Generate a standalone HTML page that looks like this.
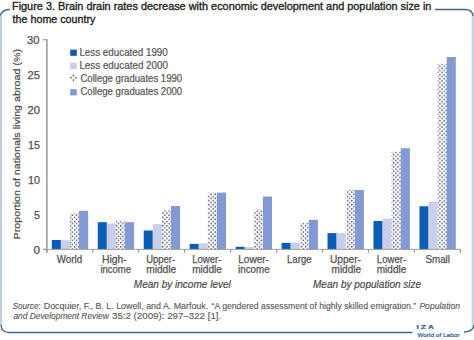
<!DOCTYPE html>
<html><head><meta charset="utf-8"><style>
html,body{margin:0;padding:0;background:#fff;}
body{width:474px;height:340px;overflow:hidden;}
svg{display:block;font-family:"Liberation Sans",sans-serif;}
.tk{font-size:10.8px;fill:#505050;stroke:#505050;stroke-width:0.25px;}
.cat{font-size:10.5px;fill:#505050;stroke:#505050;stroke-width:0.25px;}
.ylab{font-size:9.9px;fill:#4a4a4a;stroke:#4a4a4a;stroke-width:0.2px;}
.it{font-size:10.5px;font-style:italic;fill:#4a4a4a;stroke:#4a4a4a;stroke-width:0.2px;}
.ttl{font-size:11.1px;fill:#231f20;stroke:#231f20;stroke-width:0.35px;}
.leg{font-size:10.0px;fill:#555;stroke:#555;stroke-width:0.2px;}
.src{font-size:9.3px;fill:#555;stroke:#555;stroke-width:0.12px;}
.iza{font-size:5px;font-weight:bold;fill:#2a5c9e;stroke:#2a5c9e;stroke-width:0.2px;}
.wol{font-size:6.2px;fill:#2a5c9e;stroke:#2a5c9e;stroke-width:0.2px;}
</style></head><body>
<svg width="474" height="340" viewBox="0 0 474 340">
<defs>
<pattern id="dots" patternUnits="userSpaceOnUse" width="4.2" height="4.2" x="0" y="0">
<rect width="4.2" height="4.2" fill="#fbfbfe"/>
<circle cx="1.05" cy="1.05" r="0.8" fill="#4e5162"/>
<circle cx="3.15" cy="3.15" r="0.8" fill="#4e5162"/>
</pattern>
</defs>
<rect width="474" height="340" fill="#fff"/>

<rect x="0" y="15" width="2" height="311" fill="#bccde6"/>
<rect x="471.6" y="15" width="2.4" height="311" fill="#c2d2e8"/>
<path d="M0,15.5 Q2.5,9.5 10,9.5" fill="none" stroke="#41658f" stroke-width="1.35"/>
<path d="M435,9.5 L465,9.5 Q472.5,9.5 473,16" fill="none" stroke="#41658f" stroke-width="1.35"/>
<path d="M1,325 Q1.5,332.5 9,332.5 L412.5,332.5" fill="none" stroke="#41658f" stroke-width="1.35"/>
<path d="M464,332 Q473,331.5 474,325" fill="none" stroke="#41658f" stroke-width="1.35"/>
<rect x="70.2" y="49.6" width="6.6" height="6.2" fill="#0b5cb4"/>
<rect x="70.2" y="62.8" width="6.6" height="6.2" fill="#c9ceea"/>
<circle cx="73.4" cy="77.7" r="1.6" fill="#eef0fa"/><circle cx="73.4" cy="75.4" r="0.85" fill="#5a5d78"/><circle cx="70.9" cy="77.7" r="0.85" fill="#5a5d78"/><circle cx="75.9" cy="77.7" r="0.85" fill="#5a5d78"/><circle cx="73.4" cy="80.1" r="0.85" fill="#5a5d78"/>
<rect x="70.2" y="89.2" width="6.6" height="6.2" fill="#8299d4"/>
<rect x="51.80" y="240.00" width="9.09" height="9.40" fill="#0b5cb4"/>
<rect x="60.89" y="240.20" width="9.09" height="9.20" fill="#c9ceea"/>
<rect x="69.98" y="213.30" width="9.09" height="36.10" fill="url(#dots)"/>
<rect x="79.07" y="210.80" width="9.09" height="38.60" fill="#8299d4"/>
<rect x="97.76" y="222.20" width="9.09" height="27.20" fill="#0b5cb4"/>
<rect x="106.84" y="223.70" width="9.09" height="25.70" fill="#c9ceea"/>
<rect x="115.93" y="221.30" width="9.09" height="28.10" fill="url(#dots)"/>
<rect x="125.02" y="222.20" width="9.09" height="27.20" fill="#8299d4"/>
<rect x="143.71" y="230.50" width="9.09" height="18.90" fill="#0b5cb4"/>
<rect x="152.80" y="224.20" width="9.09" height="25.20" fill="#c9ceea"/>
<rect x="161.89" y="210.40" width="9.09" height="39.00" fill="url(#dots)"/>
<rect x="170.98" y="206.00" width="9.09" height="43.40" fill="#8299d4"/>
<rect x="189.67" y="243.90" width="9.09" height="5.50" fill="#0b5cb4"/>
<rect x="198.76" y="243.30" width="9.09" height="6.10" fill="#c9ceea"/>
<rect x="207.84" y="192.60" width="9.09" height="56.80" fill="url(#dots)"/>
<rect x="216.93" y="192.60" width="9.09" height="56.80" fill="#8299d4"/>
<rect x="235.62" y="246.80" width="9.09" height="2.60" fill="#0b5cb4"/>
<rect x="244.71" y="247.10" width="9.09" height="2.30" fill="#c9ceea"/>
<rect x="253.80" y="210.40" width="9.09" height="39.00" fill="url(#dots)"/>
<rect x="262.89" y="196.50" width="9.09" height="52.90" fill="#8299d4"/>
<rect x="281.58" y="242.90" width="9.09" height="6.50" fill="#0b5cb4"/>
<rect x="290.67" y="242.40" width="9.09" height="7.00" fill="#c9ceea"/>
<rect x="299.76" y="222.90" width="9.09" height="26.50" fill="url(#dots)"/>
<rect x="308.84" y="219.80" width="9.09" height="29.60" fill="#8299d4"/>
<rect x="327.53" y="233.10" width="9.09" height="16.30" fill="#0b5cb4"/>
<rect x="336.62" y="233.10" width="9.09" height="16.30" fill="#c9ceea"/>
<rect x="345.71" y="190.00" width="9.09" height="59.40" fill="url(#dots)"/>
<rect x="354.80" y="190.00" width="9.09" height="59.40" fill="#8299d4"/>
<rect x="373.49" y="221.00" width="9.09" height="28.40" fill="#0b5cb4"/>
<rect x="382.58" y="218.70" width="9.09" height="30.70" fill="#c9ceea"/>
<rect x="391.67" y="151.60" width="9.09" height="97.80" fill="url(#dots)"/>
<rect x="400.76" y="148.20" width="9.09" height="101.20" fill="#8299d4"/>
<rect x="419.44" y="206.30" width="9.09" height="43.10" fill="#0b5cb4"/>
<rect x="428.53" y="201.70" width="9.09" height="47.70" fill="#c9ceea"/>
<rect x="437.62" y="64.10" width="9.09" height="185.30" fill="url(#dots)"/>
<rect x="446.71" y="57.00" width="9.09" height="192.40" fill="#8299d4"/>
<line x1="46.9" y1="39.7" x2="46.9" y2="252.5" stroke="#9a9a9a" stroke-width="1.5"/>
<line x1="43" y1="249.4" x2="460.9" y2="249.4" stroke="#a0a0a0" stroke-width="1"/>
<line x1="42.9" y1="249.40" x2="47.5" y2="249.40" stroke="#9a9a9a" stroke-width="1.2"/>
<line x1="42.9" y1="39.70" x2="47.5" y2="39.70" stroke="#9a9a9a" stroke-width="1.2"/>
<line x1="46.80" y1="249" x2="46.80" y2="252.7" stroke="#999" stroke-width="1.2"/>
<line x1="92.76" y1="249" x2="92.76" y2="252.7" stroke="#999" stroke-width="1.2"/>
<line x1="138.71" y1="249" x2="138.71" y2="252.7" stroke="#999" stroke-width="1.2"/>
<line x1="184.67" y1="249" x2="184.67" y2="252.7" stroke="#999" stroke-width="1.2"/>
<line x1="230.62" y1="249" x2="230.62" y2="252.7" stroke="#999" stroke-width="1.2"/>
<line x1="276.58" y1="249" x2="276.58" y2="252.7" stroke="#999" stroke-width="1.2"/>
<line x1="322.53" y1="249" x2="322.53" y2="252.7" stroke="#999" stroke-width="1.2"/>
<line x1="368.49" y1="249" x2="368.49" y2="252.7" stroke="#999" stroke-width="1.2"/>
<line x1="414.44" y1="249" x2="414.44" y2="252.7" stroke="#999" stroke-width="1.2"/>
<line x1="460.40" y1="249" x2="460.40" y2="252.7" stroke="#999" stroke-width="1.2"/>

<text x="12.00" y="9.5" textLength="419.40" lengthAdjust="spacingAndGlyphs" class="ttl">Figure 3. Brain drain rates decrease with economic development and population size in</text>
<text x="12.60" y="23.1" textLength="82.80" lengthAdjust="spacingAndGlyphs" class="ttl">the home country</text>
<text x="79.40" y="55.7" textLength="88.40" lengthAdjust="spacingAndGlyphs" class="leg">Less educated 1990</text>
<text x="79.40" y="69.0" textLength="88.60" lengthAdjust="spacingAndGlyphs" class="leg">Less educated 2000</text>
<text x="80.40" y="82.2" textLength="101.80" lengthAdjust="spacingAndGlyphs" class="leg">College graduates 1990</text>
<text x="80.40" y="95.4" textLength="101.80" lengthAdjust="spacingAndGlyphs" class="leg">College graduates 2000</text>
<text transform="translate(19.5,239.40) rotate(-90)" x="0" y="0" textLength="190.40" lengthAdjust="spacingAndGlyphs" class="ylab">Proportion of nationals living abroad (%)</text>
<text x="56.80" y="262.8" textLength="25.40" lengthAdjust="spacingAndGlyphs" class="cat">World</text>
<text x="102.00" y="262.8" textLength="24.60" lengthAdjust="spacingAndGlyphs" class="cat">High-</text>
<text x="100.40" y="273.2" textLength="30.60" lengthAdjust="spacingAndGlyphs" class="cat">income</text>
<text x="146.20" y="262.8" textLength="29.00" lengthAdjust="spacingAndGlyphs" class="cat">Upper-</text>
<text x="146.20" y="273.2" textLength="30.00" lengthAdjust="spacingAndGlyphs" class="cat">middle</text>
<text x="192.20" y="262.8" textLength="29.20" lengthAdjust="spacingAndGlyphs" class="cat">Lower-</text>
<text x="192.20" y="273.2" textLength="29.60" lengthAdjust="spacingAndGlyphs" class="cat">middle</text>
<text x="238.20" y="262.8" textLength="30.80" lengthAdjust="spacingAndGlyphs" class="cat">Lower-</text>
<text x="238.00" y="273.2" textLength="31.60" lengthAdjust="spacingAndGlyphs" class="cat">income</text>
<text x="287.00" y="262.8" textLength="24.60" lengthAdjust="spacingAndGlyphs" class="cat">Large</text>
<text x="330.00" y="262.8" textLength="31.00" lengthAdjust="spacingAndGlyphs" class="cat">Upper-</text>
<text x="331.60" y="273.2" textLength="29.40" lengthAdjust="spacingAndGlyphs" class="cat">middle</text>
<text x="376.80" y="262.8" textLength="29.40" lengthAdjust="spacingAndGlyphs" class="cat">Lower-</text>
<text x="376.80" y="273.2" textLength="29.40" lengthAdjust="spacingAndGlyphs" class="cat">middle</text>
<text x="425.40" y="262.8" textLength="24.60" lengthAdjust="spacingAndGlyphs" class="cat">Small</text>
<text x="133.80" y="288.4" textLength="97.00" lengthAdjust="spacingAndGlyphs" class="it">Mean by income level</text>
<text x="313.00" y="288.4" textLength="108.20" lengthAdjust="spacingAndGlyphs" class="it">Mean by population size</text>
<text x="416.60" y="328.8" textLength="17.20" lengthAdjust="spacingAndGlyphs" class="iza">I Z A</text>
<text x="417.20" y="336.8" textLength="42.40" lengthAdjust="spacingAndGlyphs" class="wol">World of Labor</text>
<text x="33.50" y="253.5" textLength="6.50" lengthAdjust="spacingAndGlyphs" class="tk">0</text>
<text x="34.00" y="218.55" textLength="6.00" lengthAdjust="spacingAndGlyphs" class="tk">5</text>
<text x="28.00" y="183.6" textLength="12.00" lengthAdjust="spacingAndGlyphs" class="tk">10</text>
<text x="28.00" y="148.65" textLength="12.00" lengthAdjust="spacingAndGlyphs" class="tk">15</text>
<text x="27.50" y="113.7" textLength="12.50" lengthAdjust="spacingAndGlyphs" class="tk">20</text>
<text x="27.50" y="78.75" textLength="12.50" lengthAdjust="spacingAndGlyphs" class="tk">25</text>
<text x="27.00" y="43.8" textLength="12.50" lengthAdjust="spacingAndGlyphs" class="tk">30</text>
<text x="12.40" y="308.6" textLength="28.40" lengthAdjust="spacingAndGlyphs" class="src"><tspan font-style="italic">Source</tspan>:</text>
<text x="43.80" y="308.6" textLength="164.40" lengthAdjust="spacingAndGlyphs" class="src">Docquier, F., B. L. Lowell, and A. Marfouk.</text>
<text x="211.60" y="308.6" textLength="204.60" lengthAdjust="spacingAndGlyphs" class="src">“A gendered assessment of highly skilled emigration.”</text>
<text x="419.40" y="308.6" textLength="40.60" lengthAdjust="spacingAndGlyphs" class="src"><tspan font-style="italic">Population</tspan></text>
<text x="13.40" y="319.4" textLength="95.40" lengthAdjust="spacingAndGlyphs" class="src"><tspan font-style="italic">and Development Review</tspan></text>
<text x="112.00" y="319.4" textLength="109.20" lengthAdjust="spacingAndGlyphs" class="src">35:2 (2009): 297–322 [1].</text>
</svg>
</body></html>
